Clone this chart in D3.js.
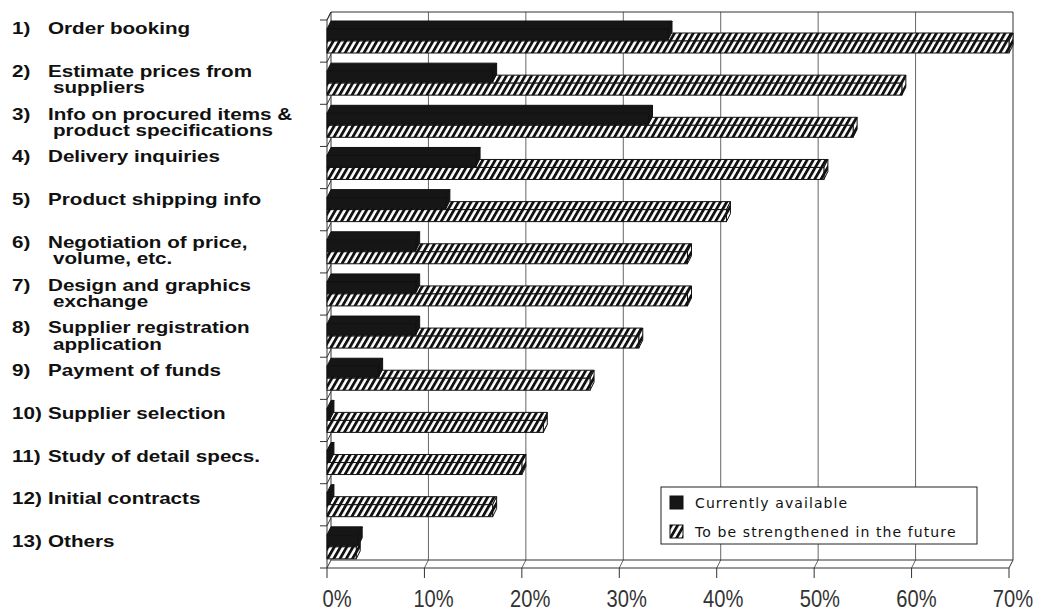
<!DOCTYPE html>
<html>
<head>
<meta charset="utf-8">
<script src="https://cdn.jsdelivr.net/npm/d3@7"></script>
<style>
  body { margin: 0; background: #fff; }
  svg { display: block; }
</style>
</head>
<body>
<svg id="chart" width="1043" height="613"></svg>
<script>
const itemNumbers = ["1)", "2)", "3)", "4)", "5)", "6)", "7)", "8)", "9)", "10)", "11)", "12)", "13)"];
const itemLabels = [
    ["Order booking"],
    ["Estimate prices from", "suppliers"],
    ["Info on procured items &", "product specifications"],
    ["Delivery inquiries"],
    ["Product shipping info"],
    ["Negotiation of price,", "volume, etc."],
    ["Design and graphics", "exchange"],
    ["Supplier registration", "application"],
    ["Payment of funds"],
    ["Supplier selection"],
    ["Study of detail specs."],
    ["Initial contracts"],
    ["Others"]
];
const currentlyAvailable = [35, 17, 33, 15.3, 12.2, 9.1, 9.1, 9.1, 5.3, 0.3, 0.3, 0.3, 3.2];
const futureStrengthen = [70, 59, 54, 51, 41, 37, 37, 32, 27, 22.2, 20, 17, 3];
const xTicks = [0, 10, 20, 30, 40, 50, 60, 70];
const seriesNames = ["Currently available", "To be strengthened in the future"];

const svg = d3.select("#chart");

// 3d depth of the chart box
const dx = 4, dy = 8;
const plotTop = 12, floorFront = 568;

const x = d3.scaleLinear().domain([0, 70]).range([327, 1009]);
const xLabel = d3.scaleLinear().domain([0, 70]).range([337, 1013]);
const y = d3.scaleBand().domain(itemNumbers).range([20, floorFront]).padding(0);
// the category texts sit on their own, slightly wider spacing
const yLabel = d3.scalePoint().domain(itemNumbers).range([28, 541]);

const defs = svg.append("defs");
const hatch = defs.append("pattern")
    .attr("id", "hatch")
    .attr("patternUnits", "userSpaceOnUse")
    .attr("width", 5.4)
    .attr("height", 10)
    .attr("patternTransform", "rotate(30)");
hatch.append("rect").attr("width", 5.4).attr("height", 10).attr("fill", "#fff");
hatch.append("rect").attr("width", 2.8).attr("height", 10).attr("fill", "#111");

// walls and floor
const frame = svg.append("g").attr("fill", "none");

frame.selectAll(".grid")
    .data(xTicks.slice(1, -1))
    .enter()
    .append("path")
    .attr("class", "grid")
    .attr("stroke", "#666")
    .attr("stroke-width", 1)
    .attr("d", d => `M${x(d) + dx},${plotTop}V${floorFront - dy}L${x(d)},${floorFront}`);

frame.append("path")
    .attr("stroke", "#333")
    .attr("d", `M${x(0) + dx},${plotTop}H${x(70) + dx}V${floorFront - dy}H${x(0) + dx}Z`);
frame.append("path")
    .attr("stroke", "#333")
    .attr("d", `M${x(0) + dx},${plotTop}L${x(0)},${plotTop + dy}V${floorFront}H${x(70)}L${x(70) + dx},${floorFront - dy}`);

// bottom ticks
frame.selectAll(".xtick")
    .data(xTicks)
    .enter()
    .append("line")
    .attr("class", "xtick")
    .attr("stroke", "#333")
    .attr("x1", d => x(d)).attr("x2", d => x(d))
    .attr("y1", floorFront).attr("y2", floorFront + 10);

// left ticks
const leftTicks = itemNumbers.map(d => y(d)).concat([floorFront]);
frame.selectAll(".ytick")
    .data(leftTicks)
    .enter()
    .append("path")
    .attr("class", "ytick")
    .attr("stroke", "#333")
    .attr("d", d => `M${x(0) - 7},${d}H${x(0)}L${x(0) + dx},${d - dy}`);

// bars
function box(g, v, yFront, h, fill) {
    const x0 = x(0), x1 = x(v);
    g.append("path")
        .attr("fill", fill)
        .attr("stroke", "#111")
        .attr("stroke-width", 1)
        .attr("stroke-linejoin", "round")
        .attr("d", `M${x0},${yFront}L${x0 + dx},${yFront - dy}H${x1 + dx}L${x1},${yFront}Z`);
    g.append("path")
        .attr("fill", fill)
        .attr("stroke", "#111")
        .attr("d", `M${x1},${yFront}L${x1 + dx},${yFront - dy}V${yFront - dy + h}L${x1},${yFront + h}Z`);
    g.append("rect")
        .attr("x", x0)
        .attr("y", yFront)
        .attr("width", x1 - x0)
        .attr("height", h)
        .attr("fill", fill)
        .attr("stroke", "#111");
}

const bars = svg.append("g");
itemNumbers.forEach(function (d, i) {
    const y0 = y(d);
    const g = bars.append("g");
    box(g, futureStrengthen[i], y0 + 21, 12, "url(#hatch)");
    box(g, currentlyAvailable[i], y0 + 9, 11, "#161616");
});

// category labels
const labels = svg.append("g")
    .attr("font-family", "'Liberation Sans', Arial, sans-serif")
    .attr("font-weight", "bold")
    .attr("font-size", 16)
    .attr("fill", "#111");

itemNumbers.forEach(function (d, i) {
    const base = yLabel(d) + 6;
    labels.append("text")
        .attr("transform", `translate(12,${base}) scale(1.29,1)`)
        .text(d);
    itemLabels[i].forEach(function (line, j) {
        labels.append("text")
            .attr("transform", `translate(${48 + j * 5},${base + j * 16.5}) scale(1.29,1)`)
            .text(line);
    });
});

// x tick labels
svg.append("g")
    .selectAll("text")
    .data(xTicks)
    .enter()
    .append("text")
    .attr("transform", d => `translate(${xLabel(d)},607) scale(0.84,1)`)
    .attr("text-anchor", "middle")
    .attr("font-family", "'Liberation Sans', Arial, sans-serif")
    .attr("font-size", 24)
    .attr("fill", "#333")
    .text(d => d + "%");

// legend
const legend = svg.append("g").attr("transform", "translate(661,487)");
legend.append("rect")
    .attr("width", 316)
    .attr("height", 57)
    .attr("fill", "#fff")
    .attr("stroke", "#222");

const legendItems = legend.selectAll(".item")
    .data(seriesNames)
    .enter()
    .append("g")
    .attr("class", "item")
    .attr("transform", (d, i) => `translate(9,${9 + i * 29})`);

legendItems.append("rect")
    .attr("width", 13)
    .attr("height", 13)
    .attr("fill", (d, i) => i === 0 ? "#161616" : "url(#hatch)")
    .attr("stroke", "#111");

legendItems.append("text")
    .attr("x", 25)
    .attr("y", 12)
    .attr("font-family", "'DejaVu Sans', Verdana, sans-serif")
    .attr("font-size", 14)
    .attr("letter-spacing", 1.1)
    .attr("fill", "#111")
    .text(d => d);
</script>
</body>
</html>
